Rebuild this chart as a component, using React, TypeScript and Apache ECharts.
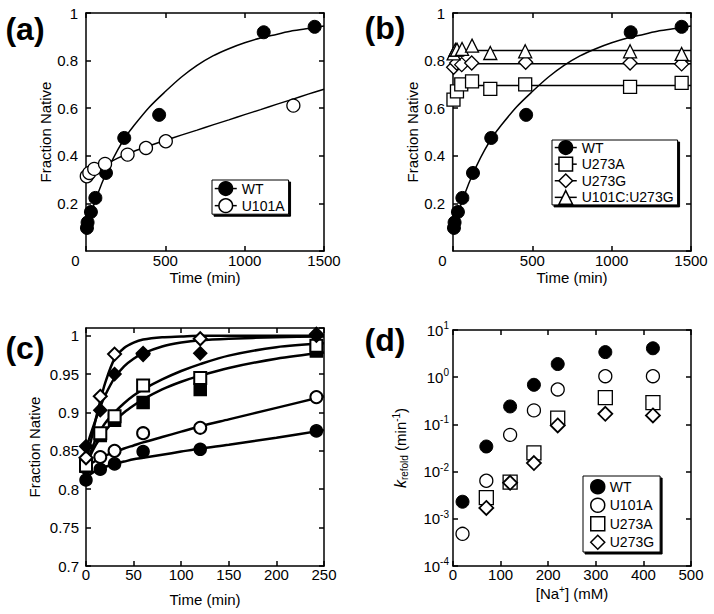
import React, { useEffect, useRef } from "react";
import * as echarts from "echarts";

const FONT = '"Liberation Sans", Arial, Helvetica, sans-serif';

// ---------- Panel (a) & (b): wild type ----------
const wtTime = [6, 10, 31, 59, 126, 241, 461, 1120, 1441];
const wtFrac = [0.097, 0.12, 0.164, 0.223, 0.328, 0.475, 0.572, 0.919, 0.942];
const wtFitTime = [0, 25, 50, 100, 150, 200, 250, 300, 400, 500, 600, 700, 800, 900, 1000, 1100, 1200, 1300, 1400, 1500];
const wtFitFrac = [0.075, 0.14, 0.195, 0.285, 0.36, 0.425, 0.48, 0.525, 0.605, 0.67, 0.73, 0.78, 0.82, 0.85, 0.875, 0.895, 0.91, 0.925, 0.935, 0.945];

// ---------- Panel (a): U101A ----------
const u101aTime = [5, 21, 52, 120, 262, 378, 503, 1307];
const u101aFrac = [0.314, 0.328, 0.345, 0.366, 0.405, 0.433, 0.461, 0.611];
const u101aFitTime = [0, 50, 100, 200, 300, 400, 500, 600, 700, 800, 900, 1000, 1100, 1200, 1300, 1400, 1500];
const u101aFitFrac = [0.305, 0.335, 0.355, 0.39, 0.418, 0.442, 0.465, 0.487, 0.508, 0.53, 0.551, 0.573, 0.594, 0.616, 0.637, 0.659, 0.68];

// ---------- Panel (b): mutants ----------
const fitRange = [0, 1500];
const u273aTime = [3, 25, 52, 120, 235, 455, 1116, 1441];
const u273aFrac = [0.636, 0.671, 0.7, 0.713, 0.681, 0.7, 0.69, 0.706];
const u273aFit = [0.695, 0.695];
const u273gTime = [4, 23, 55, 118, 458, 1116, 1441];
const u273gFrac = [0.772, 0.79, 0.783, 0.79, 0.793, 0.79, 0.786];
const u273gFit = [0.787, 0.787];
const u101cTime = [4, 15, 25, 57, 120, 235, 455, 1116, 1441];
const u101cFrac = [0.83, 0.845, 0.846, 0.849, 0.863, 0.832, 0.839, 0.839, 0.828];
const u101cFit = [0.842, 0.842];

// ---------- Panel (c) ----------
const cTime = [0, 15, 30, 60, 120, 242];
const cClosedCircle = [0.812, 0.826, 0.833, 0.849, 0.852, 0.876];
const cOpenCircle = [0.828, 0.842, 0.85, 0.873, 0.88, 0.92];
const cClosedSquare = [0.83, 0.87, 0.89, 0.913, 0.93, 0.98];
const cOpenSquare = [0.831, 0.873, 0.895, 0.935, 0.945, 0.987];
const cOpenDiamond = [0.841, 0.921, 0.976, 0.977, 0.996, 1.002];
const cClosedDiamond = [0.856, 0.903, 0.95, 0.975, 0.977, 1.0];
const cFitTime = [0, 5, 10, 15, 20, 30, 40, 50, 60, 80, 100, 120, 150, 200, 250];
const cFitOpenDiamond = [0.84, 0.862, 0.89, 0.915, 0.938, 0.97, 0.984, 0.991, 0.995, 0.998, 0.999, 1.0, 1.0, 1.0, 1.0];
const cFitClosedDiamond = [0.852, 0.872, 0.89, 0.907, 0.922, 0.945, 0.96, 0.97, 0.977, 0.986, 0.991, 0.994, 0.996, 0.998, 0.999];
const cFitOpenSquare = [0.83, 0.849, 0.864, 0.876, 0.886, 0.9, 0.912, 0.922, 0.93, 0.943, 0.954, 0.963, 0.974, 0.985, 0.99];
const cFitClosedSquare = [0.83, 0.845, 0.857, 0.867, 0.876, 0.889, 0.9, 0.909, 0.917, 0.93, 0.94, 0.948, 0.958, 0.97, 0.978];
const cFitOpenCircle = [0.828, 0.833, 0.837, 0.841, 0.844, 0.848, 0.853, 0.857, 0.861, 0.868, 0.875, 0.882, 0.891, 0.906, 0.921];
const cFitClosedCircle = [0.815, 0.82, 0.824, 0.827, 0.829, 0.833, 0.836, 0.839, 0.841, 0.845, 0.849, 0.853, 0.858, 0.867, 0.877];

// ---------- Panel (d) ----------
const naConc = [20, 70, 120, 170, 220, 320, 420];
const kWT = [0.0023, 0.034, 0.24, 0.69, 1.9, 3.4, 4.1];
const kU101A = [0.00048, 0.0064, 0.06, 0.198, 0.55, 1.05, 1.05];
const kU273A = [null, 0.0028, 0.006, 0.025, 0.136, 0.37, 0.29];
const kU273G = [null, 0.0017, 0.0058, 0.0152, 0.095, 0.168, 0.155];

const panelLabels = ["(a)", "(b)", "(c)", "(d)"];

const BLACK = "#000";
const LW = 1.5;

function pts(xs: number[], ys: (number | null)[]) {
  const out: number[][] = [];
  xs.forEach((x, i) => {
    const y = ys[i];
    if (y !== null && y !== undefined) out.push([x, y]);
  });
  return out;
}

const txt = (size: number, extra: any = {}) => ({ color: BLACK, fontSize: size, fontFamily: FONT, ...extra });

function baseAxis(grid: number, type: string, min: number, max: number, interval?: number) {
  const a: any = {
    type,
    gridIndex: grid,
    min,
    max,
    splitLine: { show: false },
    axisLine: { show: true, onZero: false, lineStyle: { color: BLACK, width: LW } },
    axisTick: { show: true, inside: true, length: 5, lineStyle: { color: BLACK, width: LW } },
  };
  if (type === "log") a.logBase = 10;
  if (interval !== undefined) a.interval = interval;
  return a;
}

function fitLine(grid: number, xs: number[], ys: number[], width: number) {
  return {
    type: "line",
    xAxisIndex: grid * 2,
    yAxisIndex: grid * 2,
    data: pts(xs, ys),
    symbol: "none",
    smooth: 0.3,
    lineStyle: { color: BLACK, width },
    silent: true,
    z: 2,
  };
}

function markers(grid: number, name: string, xs: number[], ys: (number | null)[], symbol: string, filled: boolean, size: number, kind: string, bw: number) {
  const s: any = {
    type: kind,
    name,
    xAxisIndex: grid * 2,
    yAxisIndex: grid * 2,
    data: pts(xs, ys),
    symbol,
    symbolSize: size,
    itemStyle: { color: filled ? BLACK : "#fff", borderColor: BLACK, borderWidth: bw, opacity: 1 },
    silent: true,
    z: 3,
  };
  if (kind === "line") {
    s.lineStyle = { width: 0, opacity: 0 };
    s.showSymbol = true;
    s.showAllSymbol = true;
  }
  return s;
}

function legendBox(data: string[], left: number, top: number, iw: number, ih: number, gap: number, padding: number[]) {
  return {
    data,
    orient: "vertical",
    left,
    top,
    itemWidth: iw,
    itemHeight: ih,
    itemGap: gap,
    padding,
    borderColor: BLACK,
    borderWidth: 1,
    backgroundColor: "#fff",
    shadowColor: BLACK,
    shadowOffsetX: 2,
    shadowOffsetY: 2,
    shadowBlur: 0,
    selectedMode: false,
    formatter: (n: string) => n.slice(2),
    textStyle: txt(14),
    lineStyle: { color: BLACK, width: LW, opacity: 1 },
    itemStyle: { borderWidth: LW },
  };
}

function buildOption() {
  const grids = [
    { left: 86, top: 13, width: 238, height: 238 },
    { left: 453, top: 13, width: 238, height: 238 },
    { left: 86, top: 328, width: 238, height: 238 },
    { left: 453, top: 330, width: 238, height: 236 },
  ];

  const zeroShiftFmt = (v: number) => (v === 0 ? "{z|0}" : String(v));
  const zeroRich = { z: txt(15, { padding: [0, 21, 0, 0] }) };

  const xAxes: any[] = [];
  const yAxes: any[] = [];

  // (a) and (b)
  for (const g of [0, 1]) {
    xAxes.push({
      ...baseAxis(g, "value", 0, 1500, 500),
      position: "bottom",
      name: "Time (min)",
      nameLocation: "middle",
      nameGap: 19,
      nameTextStyle: txt(15),
      axisLabel: { ...txt(15), margin: 2, formatter: zeroShiftFmt, rich: zeroRich },
    });
    xAxes.push({ ...baseAxis(g, "value", 0, 1500, 500), position: "top", axisLabel: { show: false } });
    yAxes.push({
      ...baseAxis(g, "value", 0, 1, 0.2),
      position: "left",
      name: "Fraction Native",
      nameLocation: "middle",
      nameRotate: 90,
      nameGap: 32,
      nameTextStyle: txt(15),
      axisLabel: { ...txt(15), margin: 8, showMinLabel: false },
    });
    yAxes.push({ ...baseAxis(g, "value", 0, 1, 0.2), position: "right", axisLabel: { show: false } });
  }

  // (c)
  xAxes.push({
    ...baseAxis(2, "value", 0, 250, 50),
    position: "bottom",
    name: "Time (min)",
    nameLocation: "middle",
    nameGap: 26,
    nameTextStyle: txt(15),
    axisLabel: { ...txt(15), margin: 1 },
  });
  xAxes.push({ ...baseAxis(2, "value", 0, 250, 50), position: "top", axisLabel: { show: false } });
  yAxes.push({
    ...baseAxis(2, "value", 0.7, 1.01, 0.05),
    position: "left",
    name: "Fraction Native",
    nameLocation: "middle",
    nameRotate: 90,
    nameGap: 44,
    nameTextStyle: txt(15),
    axisLabel: {
      ...txt(15),
      margin: 7,
      showMaxLabel: false,
      formatter: (v: number) => (v > 1.001 ? "" : String(Math.round(v * 100) / 100)),
    },
  });
  yAxes.push({ ...baseAxis(2, "value", 0.7, 1.01, 0.05), position: "right", axisLabel: { show: false } });

  // (d)
  xAxes.push({
    ...baseAxis(3, "value", 0, 500, 100),
    position: "bottom",
    name: "{n|[Na}{sup|+}{n|] (mM)}",
    nameLocation: "middle",
    nameGap: 18,
    nameTextStyle: {
      ...txt(15),
      rich: { n: txt(15), sup: txt(10, { padding: [0, 0, 8, 0] }) },
    },
    axisLabel: { ...txt(15), margin: 1 },
  });
  xAxes.push({ ...baseAxis(3, "value", 0, 500, 100), position: "top", axisLabel: { show: false } });
  yAxes.push({
    ...baseAxis(3, "log", 0.0001, 10),
    position: "left",
    name: "{k|k}{sub|refold}{n| (min}{sup|-1}{n|)}",
    nameLocation: "middle",
    nameRotate: 90,
    nameGap: 44,
    nameTextStyle: {
      ...txt(15),
      rich: {
        k: txt(16, { fontStyle: "italic" }),
        sub: txt(10, { padding: [8, 0, 0, 0] }),
        n: txt(15),
        sup: txt(10, { padding: [0, 0, 8, 0] }),
      },
    },
    axisLabel: {
      ...txt(15),
      margin: 4,
      formatter: (v: number) => "{b|10}{s|" + Math.round(Math.log10(v)) + "}",
      rich: { b: txt(15), s: txt(10, { padding: [0, 0, 9, 0] }) },
    },
  });
  yAxes.push({ ...baseAxis(3, "log", 0.0001, 10), position: "right", axisLabel: { show: false } });

  const series: any[] = [
    // (a)
    fitLine(0, wtFitTime, wtFitFrac, LW),
    fitLine(0, u101aFitTime, u101aFitFrac, LW),
    markers(0, "a|WT", wtTime, wtFrac, "circle", true, 13, "line", 1),
    markers(0, "a|U101A", u101aTime, u101aFrac, "circle", false, 13, "line", 1.3),
    // (b)
    fitLine(1, wtFitTime, wtFitFrac, LW),
    fitLine(1, fitRange, u273aFit, LW),
    fitLine(1, fitRange, u273gFit, LW),
    fitLine(1, fitRange, u101cFit, LW),
    markers(1, "b|U273A", u273aTime, u273aFrac, "rect", false, 13, "line", 1.3),
    markers(1, "b|U273G", u273gTime, u273gFrac, "diamond", false, 14, "line", 1.3),
    markers(1, "b|U101C:U273G", u101cTime, u101cFrac, "triangle", false, 13, "line", 1.3),
    markers(1, "b|WT", wtTime, wtFrac, "circle", true, 13, "line", 1),
    // (c)
    fitLine(2, cFitTime, cFitClosedCircle, 2.5),
    fitLine(2, cFitTime, cFitOpenCircle, 2.5),
    fitLine(2, cFitTime, cFitClosedSquare, 2.5),
    fitLine(2, cFitTime, cFitOpenSquare, 2.5),
    fitLine(2, cFitTime, cFitClosedDiamond, 2.5),
    fitLine(2, cFitTime, cFitOpenDiamond, 2.5),
    markers(2, "c|closed circle", cTime, cClosedCircle, "circle", true, 12, "scatter", 1.5),
    markers(2, "c|open circle", cTime, cOpenCircle, "circle", false, 12, "scatter", 2),
    markers(2, "c|closed square", cTime, cClosedSquare, "rect", true, 12, "scatter", 1.5),
    markers(2, "c|open square", cTime, cOpenSquare, "rect", false, 12, "scatter", 2),
    markers(2, "c|open diamond", cTime, cOpenDiamond, "diamond", false, 13, "scatter", 2),
    markers(2, "c|closed diamond", cTime, cClosedDiamond, "diamond", true, 13, "scatter", 1.5),
    // (d)
    markers(3, "d|WT", naConc, kWT, "circle", true, 13, "scatter", 1),
    markers(3, "d|U101A", naConc, kU101A, "circle", false, 13, "scatter", 1.3),
    markers(3, "d|U273A", naConc, kU273A, "rect", false, 14, "scatter", 1.3),
    markers(3, "d|U273G", naConc, kU273G, "diamond", false, 14, "scatter", 1.8),
  ];

  const labelPos = [
    [25, 29],
    [385, 28],
    [25, 348],
    [385, 340],
  ];

  return {
    animation: false,
    backgroundColor: "#fff",
    textStyle: { fontFamily: FONT },
    grid: grids,
    xAxis: xAxes,
    yAxis: yAxes,
    legend: [
      legendBox(["a|WT", "a|U101A"], 212, 180, 22, 17, 2, [1, 4, 1, 2]),
      legendBox(["b|WT", "b|U273A", "b|U273G", "b|U101C:U273G"], 552, 140, 22, 17, 1.5, [0, 4, 0, 2]),
      legendBox(["d|WT", "d|U101A", "d|U273A", "d|U273G"], 583, 476, 14, 14, 3, [3, 6, 2, 7]),
    ],
    graphic: panelLabels.map((t, i) => ({
      type: "text",
      x: labelPos[i][0],
      y: labelPos[i][1],
      style: {
        text: t,
        fill: BLACK,
        font: 'bold 32px "Liberation Sans", Arial, sans-serif',
        textAlign: "center",
        textVerticalAlign: "middle",
      },
    })),
    series,
  };
}

export default function App() {
  const ref = useRef<HTMLDivElement>(null);
  useEffect(() => {
    if (!ref.current) return;
    const chart = echarts.init(ref.current, null, { renderer: "svg" });
    chart.setOption(buildOption() as any);
    return () => chart.dispose();
  }, []);
  return (
    <div
      ref={ref}
      style={{ position: "fixed", left: 0, top: 0, width: 714, height: 614, background: "#fff" }}
    />
  );
}
